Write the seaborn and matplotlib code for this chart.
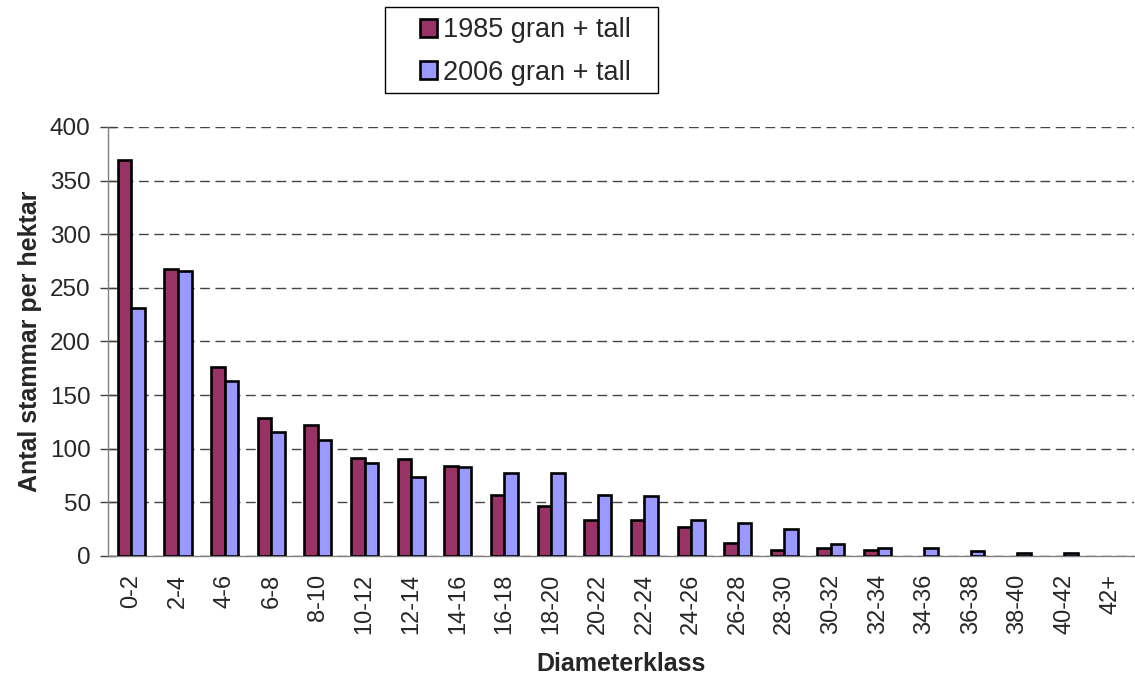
import matplotlib
matplotlib.use("Agg")
import matplotlib.pyplot as plt
from matplotlib.patches import Patch, Rectangle
import seaborn as sns
import pandas as pd
import numpy as np

# Diameterklasser och antal stammar per hektar
klasser = ["0-2", "2-4", "4-6", "6-8", "8-10", "10-12", "12-14", "14-16", "16-18",
           "18-20", "20-22", "22-24", "24-26", "26-28", "28-30", "30-32", "32-34",
           "34-36", "36-38", "38-40", "40-42", "42+"]
v1985 = [369, 268, 176, 129, 122, 91, 90, 84, 57, 47, 34, 34, 27, 12, 6, 7, 6,
         0, 0, 0, 0, 0]
v2006 = [231, 266, 163, 116, 108, 87, 74, 83, 77, 77, 57, 56, 34, 31, 25, 11, 7,
         7, 5, 2.5, 2.5, 0]
serier = ["1985 gran + tall", "2006 gran + tall"]
farger = ["#993366", "#9999FF"]

df = pd.DataFrame({
    "klass": klasser * 2,
    "antal": v1985 + v2006,
    "serie": [serier[0]] * len(klasser) + [serier[1]] * len(klasser),
})

sns.set_style("white")
plt.rcParams['font.family'] = ['Liberation Sans', 'DejaVu Sans']

fig = plt.figure(figsize=(11.35, 6.75), dpi=100)
ax = fig.add_axes([0.0952, 0.1763, 0.9040, 0.6356])

sns.barplot(data=df, x="klass", y="antal", hue="serie", palette=farger,
            width=0.58, edgecolor="black", linewidth=1.9, saturation=1,
            ax=ax, legend=False, zorder=3)

# dölj staplar med värdet noll
for p in ax.patches:
    if p.get_height() == 0:
        p.set_visible(False)

ax.set_ylim(0, 400)
ax.set_xlim(-0.5, len(klasser) - 0.5)
ax.set_yticks(range(0, 401, 50))
ax.yaxis.grid(True, linestyle=(0, (7, 4)), color="#444444", linewidth=1, zorder=0)
ax.xaxis.grid(False)

for s in ["top", "right"]:
    ax.spines[s].set_visible(False)
for s in ["left", "bottom"]:
    ax.spines[s].set_color("#808080")
    ax.spines[s].set_linewidth(1)

ax.set_xticks(np.arange(len(klasser)))
ax.set_xticklabels(klasser, rotation=90)
ax.set_xticks(np.arange(len(klasser) + 1) - 0.5, minor=True)
ax.tick_params(axis="x", which="major", length=0, labelsize=17, pad=13)
ax.tick_params(axis="x", which="minor", length=5.5, width=1, color="#404040", direction="out")
ax.tick_params(axis="y", which="major", length=11, width=1, color="#404040",
               direction="inout", labelsize=17.5, left=True, pad=7)

ax.set_xlabel("Diameterklass", fontsize=18, fontweight="bold", labelpad=13)
ax.set_ylabel("Antal stammar per hektar", fontsize=18, fontweight="bold", labelpad=6)

# legendram ritas separat för att få samma luft som i originalet
fig.patches.append(Rectangle((0.3392, 0.8622), 0.2405, 0.1274, transform=fig.transFigure,
                             facecolor="white", edgecolor="black", linewidth=1, zorder=1))
handles = [Patch(facecolor=c, edgecolor="black", linewidth=1.9) for c in farger]
leg = fig.legend(handles, serier, loc="center", bbox_to_anchor=(0.4626, 0.9237),
                 fontsize=19.5, frameon=False,
                 handlelength=0.65, handleheight=0.65, handletextpad=0.2,
                 borderpad=0, labelspacing=0.62, borderaxespad=0)
leg.set_zorder(2)

fig.savefig("out.png", dpi=100)
